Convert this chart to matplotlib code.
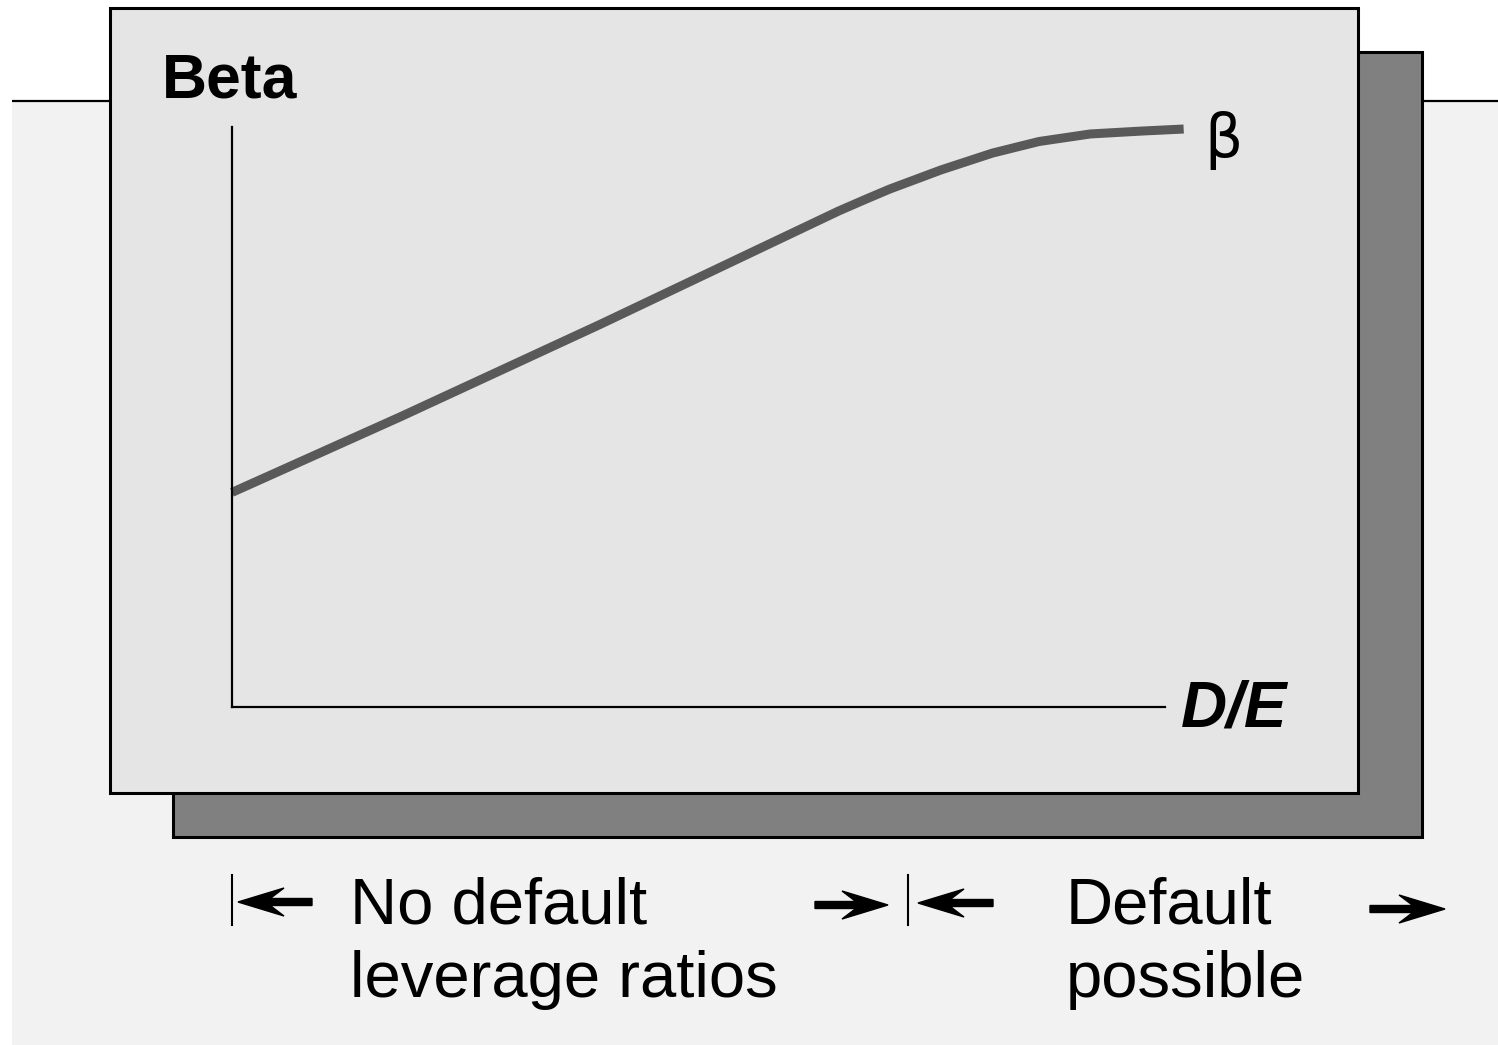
import matplotlib.pyplot as plt
from matplotlib.patches import Rectangle, FancyArrow

# beta curve (D/E on x, beta on y, arbitrary units)
de = [0.0, 0.36, 0.79, 1.30, 1.36, 1.41, 1.52, 1.63, 1.73, 1.84, 1.95, 2.04]
beta = [0.74, 1.00, 1.32, 1.71, 1.752, 1.786, 1.852, 1.91, 1.95, 1.976, 1.986, 1.993]

W, H = 1498, 1045
fig = plt.figure(figsize=(W / 100, H / 100), dpi=100)
fig.patch.set_facecolor("white")

# background layer in pixel coordinates
bg = fig.add_axes([0, 0, 1, 1])
bg.set_xlim(0, W)
bg.set_ylim(H, 0)
bg.axis("off")

bg.add_patch(Rectangle((12, 101), W - 12, H - 101, facecolor="#f2f2f2",
                       edgecolor="none", zorder=0))
bg.plot([12, W], [101, 101], color="black", lw=1.6, solid_capstyle="butt", zorder=0.5)

# shadow + panel
bg.add_patch(Rectangle((173, 52), 1249, 785, facecolor="#808080", edgecolor="black",
                       lw=2.2, zorder=1))
bg.add_patch(Rectangle((110, 8), 1248, 785, facecolor="#e5e5e5", edgecolor="black",
                       lw=2.2, zorder=1.5))

font = "Liberation Sans"
bg.text(162, 97, "Beta", fontsize=45, fontweight="bold", family=font, va="baseline",
        ha="left", zorder=3)
bg.text(1204, 157, "β", fontsize=43, family="DejaVu Sans", va="baseline", ha="left", zorder=3)
bg.text(1181, 726, "D/E", fontsize=46, fontweight="bold", style="italic", family=font,
        va="baseline", ha="left", zorder=3)

# bottom annotations
txt = dict(fontsize=47, family=font, va="baseline", ha="left", zorder=3)
bg.text(350, 924, "No default", **txt)
bg.text(350, 997, "leverage ratios", **txt)
bg.text(1066, 924, "Default", **txt)
bg.text(1066, 997, "possible", **txt)

bg.plot([232, 232], [875, 925], color="black", lw=1.5, zorder=3)
bg.plot([908, 908], [875, 925], color="black", lw=1.5, zorder=3)

arr = dict(width=7, head_width=28, head_length=46, overhang=0.3, color="black",
           length_includes_head=True, zorder=3)
bg.add_patch(FancyArrow(312, 902, -74, 0, **arr))
bg.add_patch(FancyArrow(815, 905, 73, 0, **arr))
bg.add_patch(FancyArrow(993, 903, -75, 0, **arr))
bg.add_patch(FancyArrow(1370, 909, 75, 0, **arr))

# chart axes
ax = fig.add_axes([232 / W, 1 - 707 / H, (1165 - 232) / W, (707 - 127) / H])
ax.patch.set_visible(False)
ax.set_xlim(0, 2.0)
ax.set_ylim(0, 2.0)
for s in ["top", "right"]:
    ax.spines[s].set_visible(False)
for s in ["left", "bottom"]:
    ax.spines[s].set_linewidth(1.6)
ax.set_xticks([])
ax.set_yticks([])
ax.plot(de, beta, color="#595959", lw=6.5, clip_on=False, solid_capstyle="butt",
        solid_joinstyle="round")

fig.savefig("out.png", dpi=100)
